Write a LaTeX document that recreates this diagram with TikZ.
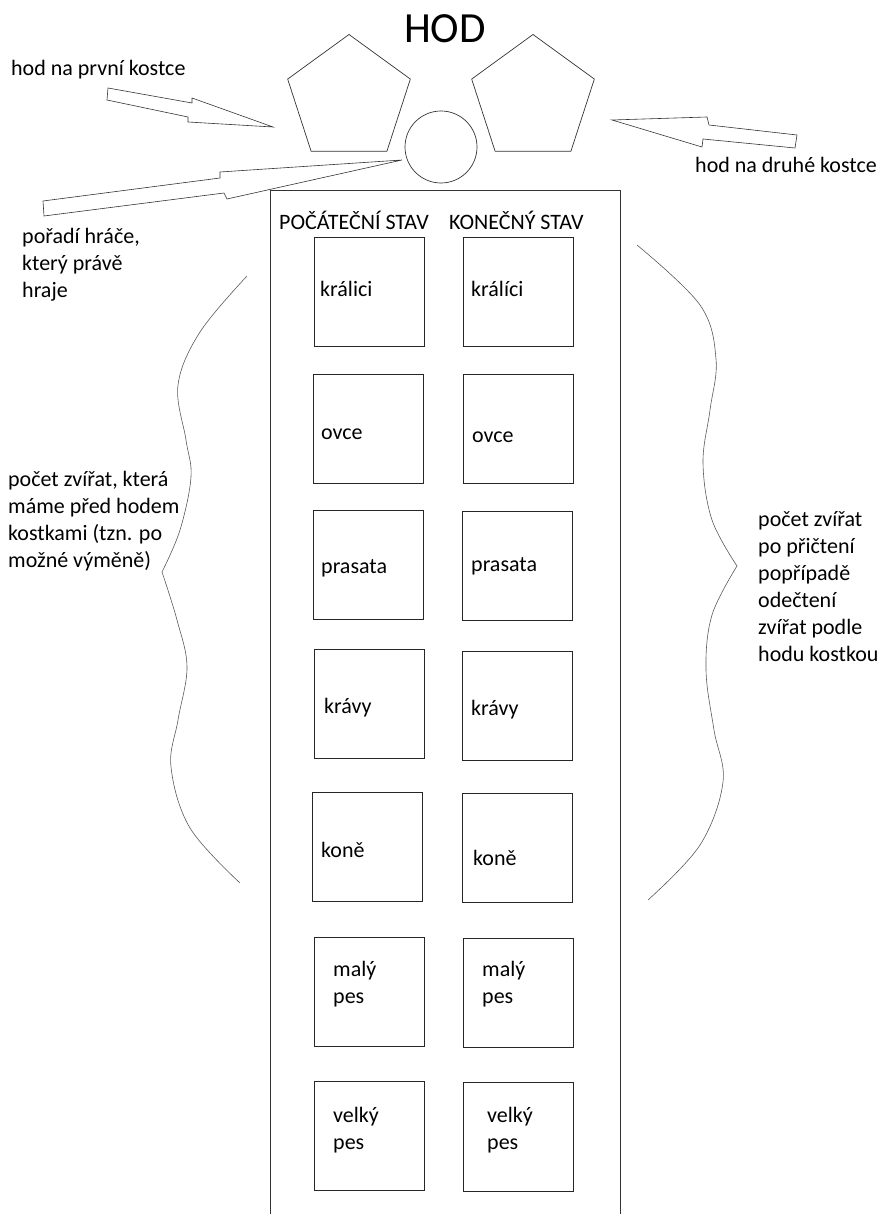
\documentclass[tikz,border=0pt]{standalone}
\usepackage{fontspec}
\setmainfont{Carlito}
\tikzset{
  txt/.style={anchor=base west,inner sep=0pt,align=left,font=\fontsize{22}{27}\selectfont},
  animbox/.style={draw=black!85,line width=0.8pt,minimum width=110pt,minimum height=109pt,inner sep=0pt,anchor=north west},
  diepen/.style={draw=black!80,line width=0.7pt,line join=miter},
  brace/.style={draw=black!65,line width=0.6pt},
  blockarrow/.style={draw=black!80,line width=0.6pt,line join=miter}
}
\begin{document}
\begin{tikzpicture}[x=1pt,y=-1pt]
  \useasboundingbox (0,0) rectangle (882,1214);
  \node[anchor=base west,inner sep=0pt,font=\fontsize{43}{50}\selectfont] (title) at (404,43) {HOD};
  \def\R{64.5}
  \foreach \cx in {349,533} {
    \draw[diepen] (\cx,99) +(270:\R) -- +(342:\R) -- +(54:\R) -- +(126:\R) -- +(198:\R) -- cycle;
  }
  \node[circle,draw=black!80,line width=0.7pt,minimum size=72pt,inner sep=0pt] (player) at (441,147) {};
  \draw[blockarrow] (108,88) -- (192,103) -- (192,98) -- (273,127) -- (188,122) -- (188,117) -- (107,100) -- cycle;
  \draw[blockarrow] (43,201) -- (220,178) -- (220,172) -- (402,160) -- (227,199) -- (224,193) -- (44,216) -- cycle;
  \draw[blockarrow] (612,120) -- (707,117) -- (709,125) -- (797,135) -- (795,148) -- (703,139) -- (702,147) -- cycle;
  \node[txt] (first) at (11,76) {hod na první kostce};
  \node[txt] (second) at (695,173) {hod na druhé kostce};
  \node[txt] (order) at (22,297.6) {pořadí hráče,\\který právě\\hraje};
  \draw[line width=0.9pt,black!80] (270,1214) -- (270,190) -- (620,190) -- (620,1214);
  \node[txt] (head1) at (279,230) {POČÁTEČNÍ STAV};
  \node[txt] (head2) at (449,230) {KONEČNÝ STAV};
  \foreach \i/\bx/\by/\tx/\ty/\txt in {1/314/237/320/297/králici,
    2/313/374/321/439/ovce,
    3/313/510/321/573/prasata,
    4/314/649/324/713/krávy,
    5/312/792/321/857/koně,
    6/314/937/333/1003.8/{malý\\pes},
    7/314/1081/333/1149.8/{velký\\pes}} {
    \node[animbox] (start\i) at (\bx,\by) {};
    \node[txt] (starttxt\i) at (\tx,\ty) {\txt};
  }
  \foreach \i/\bx/\by/\tx/\ty/\txt in {1/463/237/471/297/králíci,
    2/463/374/472/442/ovce,
    3/462/511/471/571/prasata,
    4/462/651/471/715/krávy,
    5/462/793/473/865/koně,
    6/463/938/482/1003.8/{malý\\pes},
    7/463/1082/487/1149.8/{velký\\pes}} {
    \node[animbox] (end\i) at (\bx,\by) {};
    \node[txt] (endtxt\i) at (\tx,\ty) {\txt};
  }
  \draw[brace] plot[smooth,tension=0.6] coordinates {(247,276) (200,332) (178,385) (186,440) (191,477) (180,530) (162,572)};
  \draw[brace] plot[smooth,tension=0.6] coordinates {(162,572) (177,620) (187,667) (178,720) (171,767) (190,828) (240,883)};
  \draw[brace] plot[smooth,tension=0.6] coordinates {(637,245) (700,305) (716,359) (710,410) (703,463) (712,520) (737,566)};
  \draw[brace] plot[smooth,tension=0.6] coordinates {(737,566) (712,615) (706,670) (714,730) (723,782) (700,845) (648,900)};
  \node[txt] (before) at (8,567) {počet zvířat, která\\máme před hodem\\kostkami (tzn. po\\možné výměně)};
  \node[txt] (after) at (758,661) {počet zvířat\\po přičtení\\popřípadě\\odečtení\\zvířat podle\\hodu kostkou};
\end{tikzpicture}
\end{document}
